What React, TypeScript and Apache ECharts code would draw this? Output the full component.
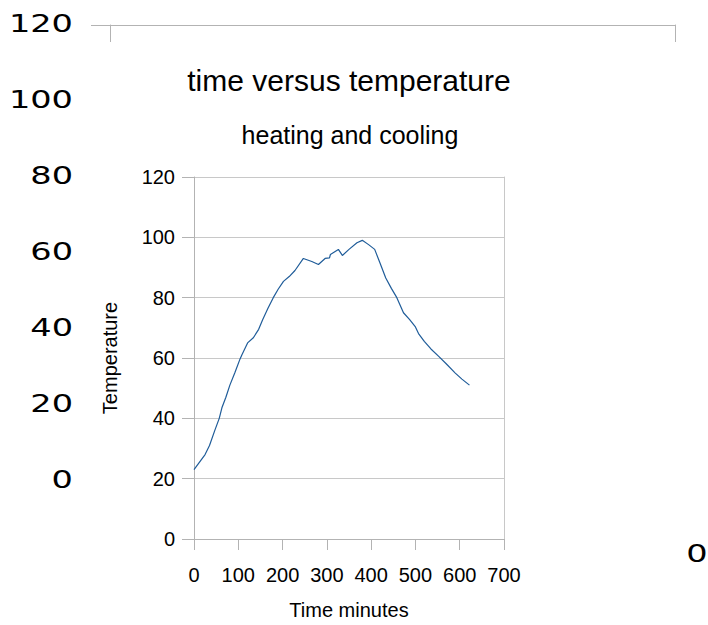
import React, { useEffect, useRef } from "react";
import * as echarts from "echarts";

// Data
const timeMinutes = [0, 10, 25, 35, 47, 57, 63, 72, 81, 92, 104, 108, 121, 134, 146, 155, 167, 179, 190, 202, 215, 228, 247, 266, 281, 296, 306, 308, 326, 335, 350, 368, 380, 395, 408, 420, 433, 446, 458, 473, 487, 500, 507, 520, 535, 552, 570, 590, 605, 622];
const temperature = [23, 25, 28, 31, 36, 40, 43.5, 47, 51, 55, 59.7, 61, 65, 66.7, 69.5, 72.7, 76.5, 80, 82.8, 85.4, 87, 89, 93, 92, 91, 93, 93.2, 94.3, 96, 94, 96, 98.2, 99, 97.5, 96, 91.5, 86.5, 83, 80, 75, 72.7, 70.3, 68.1, 65.5, 63, 60.6, 58, 55, 53, 51];

const xMin = 0, xMax = 700, xStep = 100;
const yMin = 0, yMax = 120, yStep = 20;
const outerMin = 0, outerMax = 120, outerStep = 20;
const outerTickLabels = ["0", "20", "40", "60", "80", "100", "120"];
const outerTickValues = [0, 20, 40, 60, 80, 100, 120];

const titleText = "time versus temperature";
const subtitleText = "heating and cooling";
const xAxisName = "Time minutes";
const yAxisName = "Temperature";
const strayLabel = "0";

export default function App() {
  const ref = useRef<HTMLDivElement>(null);
  useEffect(() => {
    document.body.style.margin = "0";
    const chart = echarts.init(ref.current!, null, { renderer: "svg" });
    const axisGray = "#b3b3b3";
    const gridGray = "#c8c8c8";
    const innerFont = "'Liberation Sans', Arial, sans-serif";
    const outerFont = "'DejaVu Sans', Verdana, sans-serif";
    const outerScaleX = 1.4;
    const outerSize = 24;
    const seriesData = timeMinutes.map((t, i) => [t, temperature[i]]);
    const baseGraphics: any[] = [
      { type: "rect", z: 1, shape: { x: 80, y: 42, width: 610, height: 583 }, style: { fill: "#ffffff" } },
      { type: "text", z: 5, x: 349, y: 80, style: { text: titleText, fontSize: 30, fontFamily: innerFont, fill: "#000", textAlign: "center", textVerticalAlign: "middle" } },
      { type: "text", z: 5, x: 350, y: 135, style: { text: subtitleText, fontSize: 25, fontFamily: innerFont, fill: "#000", textAlign: "center", textVerticalAlign: "middle" } },
      { type: "text", z: 5, x: 697, y: 554, scaleX: outerScaleX, style: { text: strayLabel, fontSize: outerSize, fontFamily: outerFont, fill: "#000", textAlign: "center", textVerticalAlign: "middle" } },
    ];
    chart.setOption({
      animation: false,
      backgroundColor: "#ffffff",
      grid: [
        { left: 110, right: 33, top: 25, bottom: 144 },
        { left: 194, right: 204, top: 177, bottom: 86 },
      ],
      xAxis: [
        { gridIndex: 0, type: "value", min: 0, max: 1, show: false },
        {
          gridIndex: 1, type: "value", min: xMin, max: xMax, interval: xStep, z: 3,
          axisLine: { show: true, lineStyle: { color: axisGray, width: 1 } },
          axisTick: { show: true, length: 11, lineStyle: { color: axisGray } },
          splitLine: { show: false },
          axisLabel: { margin: 26, fontSize: 20, fontFamily: innerFont, color: "#000" },
          name: xAxisName, nameLocation: "middle", nameGap: 61,
          nameTextStyle: { fontSize: 20, fontFamily: innerFont, color: "#000" },
        },
      ],
      yAxis: [
        {
          gridIndex: 0, type: "value", min: outerMin, max: outerMax, interval: outerStep, z: 0,
          axisLine: { show: true, lineStyle: { color: axisGray } },
          axisTick: { show: true, length: 19, lineStyle: { color: axisGray } },
          splitLine: { show: true, lineStyle: { color: axisGray } },
          axisLabel: { show: false },
        },
        {
          gridIndex: 0, type: "value", position: "right", min: outerMin, max: outerMax, z: 0,
          axisLine: { show: true, lineStyle: { color: axisGray } },
          axisTick: { show: false }, axisLabel: { show: false }, splitLine: { show: false },
        },
        {
          gridIndex: 1, type: "value", min: yMin, max: yMax, interval: yStep, z: 3,
          axisLine: { show: true, lineStyle: { color: axisGray } },
          axisTick: { show: true, length: 12, lineStyle: { color: axisGray } },
          splitLine: { show: true, lineStyle: { color: gridGray } },
          axisLabel: { margin: 19, fontSize: 20, fontFamily: innerFont, color: "#000" },
          name: yAxisName, nameLocation: "middle", nameGap: 74, nameRotate: 90,
          nameTextStyle: { fontSize: 20, fontFamily: innerFont, color: "#000" },
        },
        {
          gridIndex: 1, type: "value", position: "right", min: yMin, max: yMax, z: 3,
          axisLine: { show: true, lineStyle: { color: gridGray } },
          axisTick: { show: false }, axisLabel: { show: false }, splitLine: { show: false },
        },
      ],
      graphic: baseGraphics,
      series: [
        {
          type: "line", xAxisIndex: 1, yAxisIndex: 2, data: seriesData, z: 4,
          showSymbol: false, symbol: "none",
          lineStyle: { color: "#1f5c99", width: 1.2 },
        },
      ],
    });
    // Outer axis labels, placed through the outer axis scale, drawn horizontally stretched
    const labelGraphics = outerTickValues.map((v, i) => {
      const py = chart.convertToPixel({ yAxisIndex: 0 } as any, v) as unknown as number;
      return {
        type: "text", z: 5, x: 73, y: py - 1, scaleX: outerScaleX,
        style: { text: outerTickLabels[i], fontSize: outerSize, fontFamily: outerFont, fill: "#000", textAlign: "right", textVerticalAlign: "middle" },
      };
    });
    chart.setOption({ graphic: [...baseGraphics, ...labelGraphics] });
    return () => chart.dispose();
  }, []);
  return <div ref={ref} style={{ width: 708, height: 625 }} />;
}
